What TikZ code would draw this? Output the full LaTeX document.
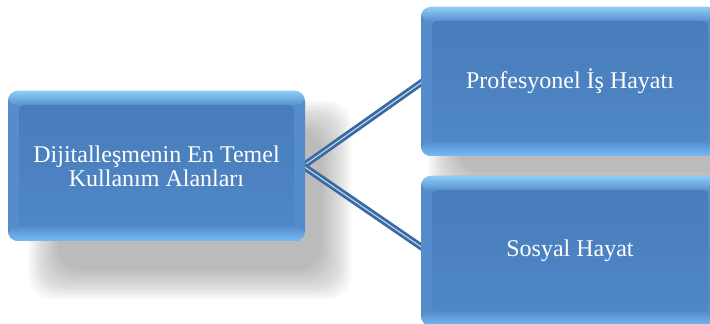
\documentclass[tikz,border=0pt]{standalone}
\usepackage{fontspec}
\setmainfont{Liberation Serif}
\pgfdeclarelayer{bg}
\pgfsetlayers{bg,main}
\definecolor{boxside}{HTML}{558CCB}
\definecolor{bevtop}{HTML}{8DCDF8}
\definecolor{bevbot}{HTML}{74BBF5}
\definecolor{innertop}{HTML}{497CBA}
\definecolor{innerbot}{HTML}{4F87C7}
\definecolor{connblue}{HTML}{3A6AA3}
\definecolor{connhi}{HTML}{C3D9F0}
\tikzset{
  bevelbox/.style={rounded corners=10pt, inner sep=0pt, align=center,
    text=white, font=\fontsize{24}{24}\selectfont,
    path picture={
      \fill[boxside] (path picture bounding box.south west) rectangle (path picture bounding box.north east);
      \shade[top color=bevtop, bottom color=boxside] ([yshift=-15pt]path picture bounding box.north west) rectangle (path picture bounding box.north east);
      \shade[top color=boxside, bottom color=bevbot] (path picture bounding box.south west) rectangle ([yshift=15pt]path picture bounding box.south east);
      \shade[top color=innertop, bottom color=innerbot, rounded corners=5pt] ([xshift=11pt,yshift=14pt]path picture bounding box.south west) rectangle ([xshift=-11pt,yshift=-14pt]path picture bounding box.north east);
    }},
  shadowlayer/.style={fill=black, opacity=0.017, rounded corners=24pt},
  conn/.style={draw=connblue, line width=2.8pt, double=connhi, double distance=1.1pt}
}
\begin{document}
\begin{tikzpicture}[x=1pt,y=1pt]
\useasboundingbox (0,0) rectangle (710,324);
\clip (0,0) rectangle (710,324);
\node[bevelbox, minimum width=297pt, minimum height=150pt] (main) at (156.5,158) {Dijitalleşmenin En Temel\\Kullanım Alanları};
\node[bevelbox, minimum width=298pt, minimum height=149pt] (top) at (570,242.5) {Profesyonel İş Hayatı};
\node[bevelbox, minimum width=298pt, minimum height=150pt] (bot) at (570,73) {Sosyal Hayat};
\begin{pgfonlayer}{bg}
  \foreach \i in {0,...,19} {
    \fill[shadowlayer] (28+1.6*\i, 24+1.6*\i) rectangle (352-1.6*\i, 224-1.6*\i);
    \fill[shadowlayer] (428+1.6*\i, 122+1.6*\i) rectangle (770-1.6*\i, 312-1.6*\i);
    \fill[shadowlayer] (428+1.6*\i, -60+1.6*\i) rectangle (770-1.6*\i, 142-1.6*\i);
  }
  \draw[conn] ([xshift=-2pt]main.east) -- ([xshift=2pt]top.west);
  \draw[conn] ([xshift=-2pt]main.east) -- ([xshift=2pt,yshift=3pt]bot.west);
\end{pgfonlayer}
\end{tikzpicture}
\end{document}
